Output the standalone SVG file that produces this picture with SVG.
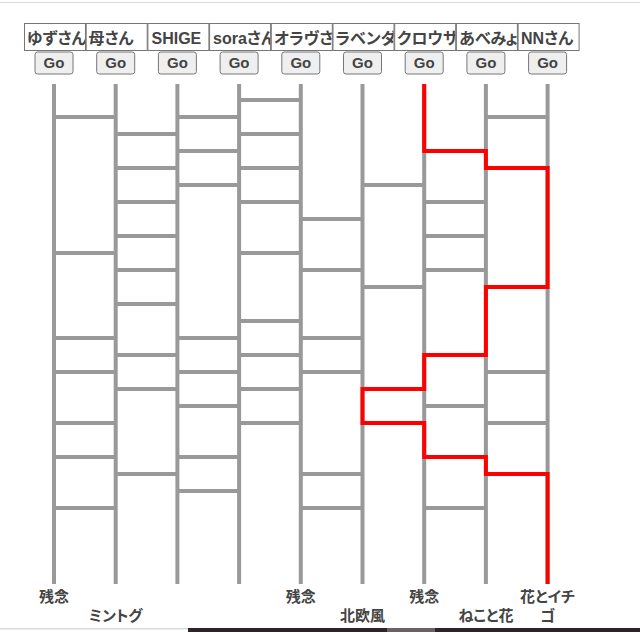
<svg xmlns="http://www.w3.org/2000/svg" width="640" height="632" viewBox="0 0 640 632">
<style>
.rail{stroke:#999;stroke-width:4;fill:none}
.rung{stroke:#999;stroke-width:4}
.hit{stroke:#f00;stroke-width:4;fill:none;stroke-linejoin:miter}
.box{fill:#fff;stroke:#767676;stroke-width:1}
.name{font-family:"Liberation Sans","Noto Sans CJK JP",sans-serif;font-size:16px;font-weight:bold;fill:#444;font-feature-settings:"palt" 1}
.btn{fill:#efefef;stroke:#767676;stroke-width:1}
.go{font-family:"Liberation Sans",Arial,sans-serif;font-size:15px;font-weight:bold;fill:#444;text-anchor:middle}
.lbl{font-family:"Liberation Sans","Noto Sans CJK JP",sans-serif;font-size:15px;font-weight:bold;fill:#444;text-anchor:middle;font-feature-settings:"palt" 1}
</style>
<defs>
<clipPath id="k0"><rect x="25" y="24" width="60" height="26"/></clipPath>
<clipPath id="k1"><rect x="86.7" y="24" width="60" height="26"/></clipPath>
<clipPath id="k2"><rect x="148.4" y="24" width="60" height="26"/></clipPath>
<clipPath id="k3"><rect x="210.1" y="24" width="60" height="26"/></clipPath>
<clipPath id="k4"><rect x="271.8" y="24" width="60" height="26"/></clipPath>
<clipPath id="k5"><rect x="333.5" y="24" width="60" height="26"/></clipPath>
<clipPath id="k6"><rect x="395.2" y="24" width="60" height="26"/></clipPath>
<clipPath id="k7"><rect x="456.9" y="24" width="60" height="26"/></clipPath>
<clipPath id="k8"><rect x="518.6" y="24" width="60" height="26"/></clipPath>
</defs>
<rect x="0" y="0" width="640" height="632" fill="#fff"/>
<rect x="0" y="2" width="640" height="1" fill="#dcdcdc"/>

<g id="col0">
<line class="rail" x1="54" y1="84" x2="54" y2="584"/>
<rect class="box" x="24.5" y="23.5" width="61" height="27"/>
<text class="name" x="27" y="44.3" clip-path="url(#k0)">ゆずさん</text>
<rect class="btn" x="35" y="52" width="38" height="22" rx="2.5"/>
<text class="go" x="54" y="68">Go</text>
<text class="lbl" x="54" y="601.5">残念</text>
</g>
<g id="col1">
<line class="rail" x1="115.7" y1="84" x2="115.7" y2="584"/>
<rect class="box" x="86.2" y="23.5" width="61" height="27"/>
<text class="name" x="88.5" y="44.3" clip-path="url(#k1)">母さん</text>
<rect class="btn" x="96.7" y="52" width="38" height="22" rx="2.5"/>
<text class="go" x="115.7" y="68">Go</text>
<text class="lbl" x="115.7" y="621">ミントグ</text>
</g>
<g id="col2">
<line class="rail" x1="177.4" y1="84" x2="177.4" y2="584"/>
<rect class="box" x="147.9" y="23.5" width="61" height="27"/>
<text class="name" x="151.5" y="44.3" clip-path="url(#k2)">SHIGE</text>
<rect class="btn" x="158.4" y="52" width="38" height="22" rx="2.5"/>
<text class="go" x="177.4" y="68">Go</text>
</g>
<g id="col3">
<line class="rail" x1="239.1" y1="84" x2="239.1" y2="584"/>
<rect class="box" x="209.6" y="23.5" width="61" height="27"/>
<text class="name" x="213" y="44.3" clip-path="url(#k3)">soraさん</text>
<rect class="btn" x="220.1" y="52" width="38" height="22" rx="2.5"/>
<text class="go" x="239.1" y="68">Go</text>
</g>
<g id="col4">
<line class="rail" x1="300.8" y1="84" x2="300.8" y2="584"/>
<rect class="box" x="271.3" y="23.5" width="61" height="27"/>
<text class="name" x="274" y="44.3" clip-path="url(#k4)">オラヴさ</text>
<rect class="btn" x="281.8" y="52" width="38" height="22" rx="2.5"/>
<text class="go" x="300.8" y="68">Go</text>
<text class="lbl" x="300.8" y="601.5">残念</text>
</g>
<g id="col5">
<line class="rail" x1="362.5" y1="84" x2="362.5" y2="584"/>
<rect class="box" x="333" y="23.5" width="61" height="27"/>
<text class="name" x="335.5" y="44.3" clip-path="url(#k5)">ラベンダ</text>
<rect class="btn" x="343.5" y="52" width="38" height="22" rx="2.5"/>
<text class="go" x="362.5" y="68">Go</text>
<text class="lbl" x="362.5" y="621">北欧風</text>
</g>
<g id="col6">
<line class="rail" x1="424.2" y1="84" x2="424.2" y2="584"/>
<rect class="box" x="394.7" y="23.5" width="61" height="27"/>
<text class="name" x="397" y="44.3" clip-path="url(#k6)">クロウサ</text>
<rect class="btn" x="405.2" y="52" width="38" height="22" rx="2.5"/>
<text class="go" x="424.2" y="68">Go</text>
<text class="lbl" x="424.2" y="601.5">残念</text>
</g>
<g id="col7">
<line class="rail" x1="485.9" y1="84" x2="485.9" y2="584"/>
<rect class="box" x="456.4" y="23.5" width="61" height="27"/>
<text class="name" x="459" y="44.3" clip-path="url(#k7)">あべみょ</text>
<rect class="btn" x="466.9" y="52" width="38" height="22" rx="2.5"/>
<text class="go" x="485.9" y="68">Go</text>
<text class="lbl" x="485.9" y="621">ねこと花</text>
</g>
<g id="col8">
<line class="rail" x1="547.6" y1="84" x2="547.6" y2="584"/>
<rect class="box" x="518.1" y="23.5" width="61" height="27"/>
<text class="name" x="521" y="44.3" clip-path="url(#k8)">NNさん</text>
<rect class="btn" x="528.6" y="52" width="38" height="22" rx="2.5"/>
<text class="go" x="547.6" y="68">Go</text>
<text class="lbl" x="547.6" y="601.5">花とイチ</text>
<text class="lbl" x="547.6" y="621">ゴ</text>
</g>

<g id="connectors">
<line class="rung" x1="54" y1="117" x2="115.7" y2="117"/>
<line class="rung" x1="54" y1="253" x2="115.7" y2="253"/>
<line class="rung" x1="54" y1="338" x2="115.7" y2="338"/>
<line class="rung" x1="54" y1="372" x2="115.7" y2="372"/>
<line class="rung" x1="54" y1="423" x2="115.7" y2="423"/>
<line class="rung" x1="54" y1="457" x2="115.7" y2="457"/>
<line class="rung" x1="54" y1="508" x2="115.7" y2="508"/>

<line class="rung" x1="115.7" y1="134" x2="177.4" y2="134"/>
<line class="rung" x1="115.7" y1="168" x2="177.4" y2="168"/>
<line class="rung" x1="115.7" y1="202" x2="177.4" y2="202"/>
<line class="rung" x1="115.7" y1="236" x2="177.4" y2="236"/>
<line class="rung" x1="115.7" y1="270" x2="177.4" y2="270"/>
<line class="rung" x1="115.7" y1="304" x2="177.4" y2="304"/>
<line class="rung" x1="115.7" y1="355" x2="177.4" y2="355"/>
<line class="rung" x1="115.7" y1="389" x2="177.4" y2="389"/>
<line class="rung" x1="115.7" y1="474" x2="177.4" y2="474"/>

<line class="rung" x1="177.4" y1="117" x2="239.1" y2="117"/>
<line class="rung" x1="177.4" y1="151" x2="239.1" y2="151"/>
<line class="rung" x1="177.4" y1="185" x2="239.1" y2="185"/>
<line class="rung" x1="177.4" y1="338" x2="239.1" y2="338"/>
<line class="rung" x1="177.4" y1="372" x2="239.1" y2="372"/>
<line class="rung" x1="177.4" y1="406" x2="239.1" y2="406"/>
<line class="rung" x1="177.4" y1="457" x2="239.1" y2="457"/>
<line class="rung" x1="177.4" y1="491" x2="239.1" y2="491"/>

<line class="rung" x1="239.1" y1="100" x2="300.8" y2="100"/>
<line class="rung" x1="239.1" y1="134" x2="300.8" y2="134"/>
<line class="rung" x1="239.1" y1="168" x2="300.8" y2="168"/>
<line class="rung" x1="239.1" y1="202" x2="300.8" y2="202"/>
<line class="rung" x1="239.1" y1="253" x2="300.8" y2="253"/>
<line class="rung" x1="239.1" y1="321" x2="300.8" y2="321"/>
<line class="rung" x1="239.1" y1="355" x2="300.8" y2="355"/>
<line class="rung" x1="239.1" y1="389" x2="300.8" y2="389"/>
<line class="rung" x1="239.1" y1="423" x2="300.8" y2="423"/>

<line class="rung" x1="300.8" y1="219" x2="362.5" y2="219"/>
<line class="rung" x1="300.8" y1="270" x2="362.5" y2="270"/>
<line class="rung" x1="300.8" y1="338" x2="362.5" y2="338"/>
<line class="rung" x1="300.8" y1="372" x2="362.5" y2="372"/>
<line class="rung" x1="300.8" y1="474" x2="362.5" y2="474"/>
<line class="rung" x1="300.8" y1="508" x2="362.5" y2="508"/>

<line class="rung" x1="362.5" y1="185" x2="424.2" y2="185"/>
<line class="rung" x1="362.5" y1="287" x2="424.2" y2="287"/>
<line class="rung" x1="362.5" y1="389" x2="424.2" y2="389"/>
<line class="rung" x1="362.5" y1="423" x2="424.2" y2="423"/>

<line class="rung" x1="424.2" y1="151" x2="485.9" y2="151"/>
<line class="rung" x1="424.2" y1="202" x2="485.9" y2="202"/>
<line class="rung" x1="424.2" y1="236" x2="485.9" y2="236"/>
<line class="rung" x1="424.2" y1="270" x2="485.9" y2="270"/>
<line class="rung" x1="424.2" y1="355" x2="485.9" y2="355"/>
<line class="rung" x1="424.2" y1="406" x2="485.9" y2="406"/>
<line class="rung" x1="424.2" y1="457" x2="485.9" y2="457"/>
<line class="rung" x1="424.2" y1="508" x2="485.9" y2="508"/>

<line class="rung" x1="485.9" y1="117" x2="547.6" y2="117"/>
<line class="rung" x1="485.9" y1="168" x2="547.6" y2="168"/>
<line class="rung" x1="485.9" y1="287" x2="547.6" y2="287"/>
<line class="rung" x1="485.9" y1="372" x2="547.6" y2="372"/>
<line class="rung" x1="485.9" y1="423" x2="547.6" y2="423"/>
<line class="rung" x1="485.9" y1="474" x2="547.6" y2="474"/>

<path class="hit" d="M424.2 84 V151 H485.9 V168 H547.6 V287 H485.9 V355 H424.2 V389 H362.5 V423 H424.2 V457 H485.9 V474 H547.6 V584"/>
</g>

<rect x="0" y="628" width="188" height="1.5" fill="#d9d9d9"/>
<rect x="188" y="628" width="199" height="4" fill="#2c2428"/>
<rect x="387" y="628" width="48" height="4" fill="#6a6164"/>
<rect x="435" y="628" width="205" height="4" fill="#2c2428"/>
</svg>
